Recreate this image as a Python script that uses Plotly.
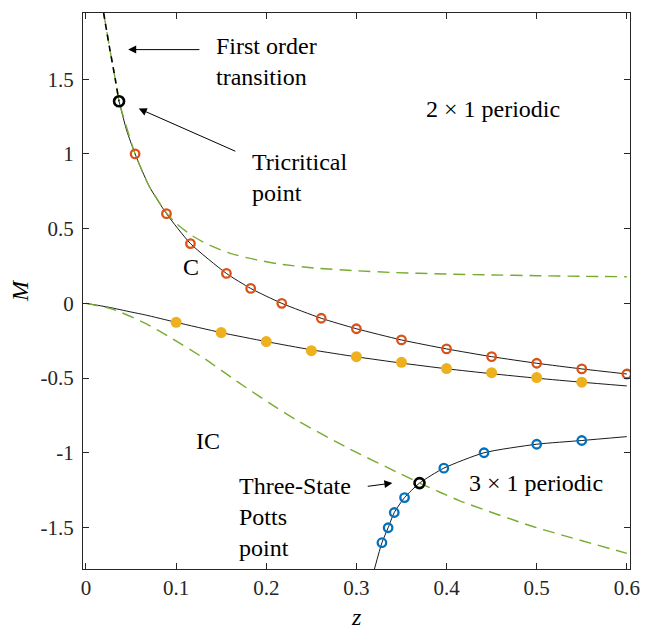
import plotly.graph_objects as go

# ---------------- data ----------------
# upper transition line (black): first-order part and continuous part
first_order_x = [0.0196, 0.0230, 0.0265, 0.0295, 0.0325, 0.0367]
first_order_y = [1.943, 1.820, 1.700, 1.600, 1.500, 1.352]

c_line_x = [0.0367, 0.0450, 0.0545, 0.0700, 0.0893, 0.1159, 0.1558, 0.1827,
            0.2172, 0.2610, 0.3000, 0.3500, 0.4000, 0.4500, 0.5000, 0.5500, 0.6000]
c_line_y = [1.352, 1.160, 1.000, 0.785, 0.600, 0.400, 0.200, 0.100,
            0.000, -0.100, -0.170, -0.245, -0.305, -0.357, -0.401, -0.439, -0.473]

# lower black line (through yellow points)
ic_line_x = [0.0, 0.025, 0.05, 0.066, 0.1, 0.15, 0.2, 0.25, 0.3, 0.35, 0.4, 0.45, 0.5, 0.55, 0.6]
ic_line_y = [0.0, -0.026, -0.058, -0.078, -0.127, -0.196, -0.256, -0.311, -0.358,
             -0.400, -0.438, -0.471, -0.501, -0.528, -0.553]

# 3x1 line (black, through blue points)
p3_line_x = [0.320, 0.3283, 0.3352, 0.342, 0.3534, 0.370, 0.397, 0.4416, 0.5, 0.55, 0.6]
p3_line_y = [-1.778, -1.602, -1.502, -1.400, -1.300, -1.203, -1.103, -1.000, -0.943, -0.918, -0.892]

# green dashed curves
green_up_x = [0.0196, 0.0265, 0.0325, 0.0367, 0.0545, 0.0700, 0.0893, 0.1000, 0.1166,
              0.1350, 0.1600, 0.1900, 0.2146, 0.2540, 0.3000, 0.3380, 0.4000, 0.4500,
              0.5000, 0.5500, 0.6000]
green_up_y = [1.943, 1.700, 1.500, 1.352, 1.000, 0.785, 0.605, 0.535, 0.457,
              0.395, 0.334, 0.290, 0.263, 0.236, 0.218, 0.207, 0.196, 0.190,
              0.185, 0.181, 0.178]

green_lo_x = [0.0, 0.030, 0.066, 0.095, 0.131, 0.167, 0.204, 0.236, 0.291, 0.345,
              0.371, 0.414, 0.494, 0.600]
green_lo_y = [0.0, -0.040, -0.134, -0.234, -0.368, -0.520, -0.670, -0.790, -0.970,
              -1.130, -1.205, -1.320, -1.490, -1.673]

# markers
red_x = [0.0545, 0.0893, 0.1159, 0.1558, 0.1827, 0.2172, 0.261, 0.300, 0.350,
         0.400, 0.450, 0.500, 0.550, 0.600]
red_y = [1.000, 0.600, 0.400, 0.200, 0.100, 0.000, -0.100, -0.170, -0.245,
         -0.305, -0.357, -0.401, -0.439, -0.473]

yellow_x = [0.10, 0.15, 0.20, 0.25, 0.30, 0.35, 0.40, 0.45, 0.50, 0.55]
yellow_y = [-0.127, -0.196, -0.256, -0.317, -0.357, -0.395, -0.437, -0.464, -0.497, -0.528]

blue_x = [0.3283, 0.3352, 0.342, 0.3534, 0.397, 0.4416, 0.500, 0.550]
blue_y = [-1.602, -1.502, -1.400, -1.300, -1.103, -1.000, -0.943, -0.918]

special_x = [0.0367, 0.370]   # tricritical point, three-state Potts point
special_y = [1.352, -1.203]

x_ticks = [0, 0.1, 0.2, 0.3, 0.4, 0.5, 0.6]
x_tick_labels = ["0", "0.1", "0.2", "0.3", "0.4", "0.5", "0.6"]
y_ticks = [-1.5, -1, -0.5, 0, 0.5, 1, 1.5]
y_tick_labels = ["-1.5", "-1", "-0.5", "0", "0.5", "1", "1.5"]

# ---------------- style ----------------
RED = "#D95319"
YEL = "#EDB120"
BLU = "#0072BD"
GRN = "#77AC30"
AXC = "#262626"
FONT = "Liberation Serif"

fig = go.Figure()

def line(x, y, color, width, dash="solid", shape="spline"):
    fig.add_trace(go.Scatter(x=x, y=y, mode="lines",
                             line=dict(color=color, width=width, dash=dash, shape=shape,
                                       smoothing=0.6),
                             hoverinfo="skip", showlegend=False))

line(c_line_x, c_line_y, "black", 0.9)
line(ic_line_x, ic_line_y, "black", 0.9)
line(p3_line_x, p3_line_y, "black", 0.9)
line(green_up_x, green_up_y, GRN, 1.4, dash="12px,7px")
line(green_lo_x, green_lo_y, GRN, 1.4, dash="12px,7px")
line(first_order_x, first_order_y, "black", 1.6, dash="6px,5px")

fig.add_trace(go.Scatter(x=yellow_x, y=yellow_y, mode="markers",
                         marker=dict(symbol="circle", size=11, color=YEL,
                                     line=dict(width=0)),
                         hoverinfo="skip", showlegend=False))
fig.add_trace(go.Scatter(x=red_x, y=red_y, mode="markers",
                         marker=dict(symbol="circle-open", size=8.5, color=RED,
                                     line=dict(width=2.3, color=RED)),
                         hoverinfo="skip", showlegend=False))
fig.add_trace(go.Scatter(x=blue_x, y=blue_y, mode="markers",
                         marker=dict(symbol="circle-open", size=8.5, color=BLU,
                                     line=dict(width=2.3, color=BLU)),
                         hoverinfo="skip", showlegend=False))
fig.add_trace(go.Scatter(x=special_x, y=special_y, mode="markers",
                         marker=dict(symbol="circle-open", size=10, color="black",
                                     line=dict(width=2.6, color="black")),
                         hoverinfo="skip", showlegend=False))

tf = dict(family=FONT, size=24, color="black")

def text(x, y, s, xanchor="left", yanchor="middle"):
    fig.add_annotation(x=x, y=y, text=s, showarrow=False, xanchor=xanchor,
                       yanchor=yanchor, align="left", font=tf)

text(0.1424, 1.62, "First order<br>transition")
text(0.182, 0.84, "Tricritical<br>point")
text(0.4515, 1.30, "2 × 1 periodic", xanchor="center")
text(0.1166, 0.245, "C", xanchor="center")
text(0.1353, -0.919, "IC", xanchor="center")
text(0.168, -1.43, "Three-State<br>Potts<br>point")
text(0.499, -1.203, "3 × 1 periodic", xanchor="center")

def arrow(hx, hy, tx, ty):
    fig.add_annotation(x=hx, y=hy, ax=tx, ay=ty, axref="x", ayref="y",
                       xref="x", yref="y", text="", showarrow=True,
                       arrowhead=2, arrowsize=1.6, arrowwidth=1,
                       arrowcolor="black", standoff=0, startstandoff=0)

arrow(0.0468, 1.698, 0.1275, 1.698)
arrow(0.0585, 1.3035, 0.1674, 1.0134)
arrow(0.3399, -1.203, 0.3109, -1.226)

# axis titles
fig.add_annotation(x=0, y=0.5, xref="x domain", yref="y domain", xshift=-63,
                   text="<i>M</i>", showarrow=False, textangle=-90,
                   xanchor="center", yanchor="middle", font=tf)
fig.add_annotation(x=0.5, y=0, xref="x domain", yref="y domain", yshift=-48,
                   text="<i>z</i>", showarrow=False,
                   xanchor="center", yanchor="middle", font=tf)

axis_common = dict(showgrid=False, zeroline=False, showline=True, linecolor=AXC,
                   linewidth=1, mirror="ticks", ticks="inside", ticklen=6,
                   tickwidth=1, tickcolor=AXC,
                   tickfont=dict(family=FONT, size=21, color=AXC))

fig.update_xaxes(range=[-0.0033, 0.6035], tickvals=x_ticks, ticktext=x_tick_labels,
                 **axis_common)
fig.update_yaxes(range=[-1.778, 1.943], tickvals=y_ticks, ticktext=y_tick_labels,
                 ticklabelstandoff=4, **axis_common)

fig.update_layout(width=651, height=629, margin=dict(l=83, r=11, t=13, b=60),
                  plot_bgcolor="white", paper_bgcolor="white", showlegend=False)

fig.write_html("out.html")
